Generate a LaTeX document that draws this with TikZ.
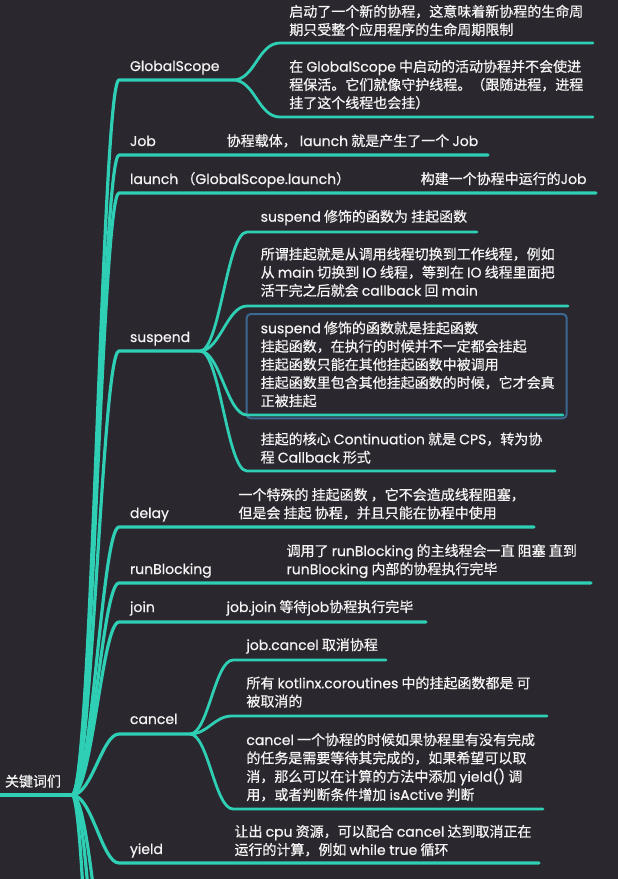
\documentclass[tikz,border=0pt]{standalone}
\usepackage{fontspec}
\setmainfont{Noto Sans CJK SC}[FakeBold=0.6]
\newfontfamily\ppfont{Poppins}[FakeBold=0.6]
\definecolor{bg}{HTML}{2B272E}
\definecolor{br}{HTML}{2ECFB4}
\definecolor{bx}{HTML}{3A6A92}
\definecolor{tx}{HTML}{F4F4F4}
\newcommand\EN[1]{{\ppfont #1}}
\newcommand\ML[1]{\begin{tabular}[t]{@{}l@{}}#1\end{tabular}}
\begin{document}
\begin{tikzpicture}[x=1pt,y=-1pt,
  txt/.style={anchor=base west, inner sep=0pt, outer sep=0pt, text=tx, font=\fontsize{14}{18.2}\selectfont},
  branch/.style={draw=br, line width=3.2pt, line cap=round, line join=round},
  rootline/.style={draw=br, line width=4pt, line cap=round},
  sub/.style={draw=br, line width=2.8pt, line cap=round, line join=round},
  boxline/.style={draw=bx, line width=2pt, rounded corners=4pt}]
\fill[bg] (0,0) rectangle (618,879);
\useasboundingbox (0,0) rectangle (618,879);
\clip (0,0) rectangle (618,879);

% ---------- coordinates ----------
\coordinate (fan) at (72,795);
\coordinate (rootL) at (0,795);
\coordinate (gsS) at (119,80);  \coordinate (gsF) at (233,80);
\coordinate (jobS) at (119,155); \coordinate (jobE) at (488,155);
\coordinate (laS) at (119,193); \coordinate (laE) at (596,193);
\coordinate (suS) at (119,351); \coordinate (suF) at (200,351);
\coordinate (deS) at (119,527); \coordinate (deE) at (534,527);
\coordinate (rbS) at (119,583); \coordinate (rbE) at (591,583);
\coordinate (joS) at (119,622); \coordinate (joE) at (426,622);
\coordinate (caS) at (119,734); \coordinate (caF) at (190,734);
\coordinate (yiS) at (119,863); \coordinate (yiE) at (539,863);
\coordinate (x1) at (119,1035);
\coordinate (x2) at (119,1215);
\coordinate (x3) at (119,1700);

\coordinate (gs1S) at (280,43);  \coordinate (gs1E) at (593,43);
\coordinate (gs2S) at (280,117); \coordinate (gs2E) at (593,117);
\coordinate (su1S) at (247,232); \coordinate (su1E) at (477,232);
\coordinate (su2S) at (247,306); \coordinate (su2E) at (568,306);
\coordinate (su3S) at (247,415); \coordinate (su3E) at (563,415);
\coordinate (su4S) at (247,471); \coordinate (su4E) at (555,471);
\coordinate (ca1S) at (233,660); \coordinate (ca1E) at (386,660);
\coordinate (ca2S) at (232,716); \coordinate (ca2E) at (547,716);
\coordinate (ca3S) at (233,809); \coordinate (ca3E) at (543,809);

% ---------- highlighted box ----------
\draw[boxline] (246.7,314) rectangle (566.7,418.3);

% ---------- main branches ----------
\draw[rootline] (rootL) -- (fan);
\foreach \s/\e in {gsS/gsF, jobS/jobE, laS/laE, suS/suF, deS/deE, rbS/rbE, joS/joE, caS/caF, yiS/yiE}
  \draw[branch] (fan) .. controls +(20,0) and +(-17,0) .. (\s) -- (\e);
\foreach \s in {x1,x2,x3}
  \draw[branch] (fan) .. controls +(20,0) and +(-17,0) .. (\s);

% ---------- sub branches ----------
\foreach \s/\e in {gs1S/gs1E, gs2S/gs2E}
  \draw[sub] (gsF) .. controls +(22,0) and +(-22,0) .. (\s) -- (\e);
\foreach \s/\e in {su1S/su1E, su2S/su2E, su3S/su3E, su4S/su4E}
  \draw[sub] (suF) .. controls +(20,0) and +(-20,0) .. (\s) -- (\e);
\foreach \s/\e in {ca1S/ca1E, ca2S/ca2E, ca3S/ca3E}
  \draw[sub] (caF) .. controls +(18,0) and +(-18,0) .. (\s) -- (\e);

% ---------- texts ----------
\node[txt] (root) at (5,786.5) {关键词们};

\node[txt] (gs) at (130,71) {\EN{GlobalScope}};
\node[txt] (job) at (130,146) {\EN{Job}};
\node[txt] (launch) at (130,184) {\EN{launch} （\EN{GlobalScope.launch}）};
\node[txt] (suspend) at (130,342) {\EN{suspend}};
\node[txt] (delay) at (130,518) {\EN{delay}};
\node[txt] (runb) at (130,574) {\EN{runBlocking}};
\node[txt] (join) at (130,612) {\EN{join}};
\node[txt] (cancel) at (130,724) {\EN{cancel}};
\node[txt] (yield) at (130,854) {\EN{yield}};

\node[txt] (gs1) at (289.3,16.7) {\ML{启动了一个新的协程，这意味着新协程的生命周\\期只受整个应用程序的生命周期限制}};
\node[txt] (gs2) at (289.3,71.7) {\ML{在 \EN{GlobalScope} 中启动的活动协程并不会使进\\程保活。它们就像守护线程。（跟随进程，进程\\挂了这个线程也会挂）}};

\node[txt] (jobd) at (226.7,146) {协程载体， \EN{launch} 就是产生了一个 \EN{Job}};
\node[txt] (launchd) at (420.7,184) {构建一个协程中运行的\EN{Job}};

\node[txt] (su1) at (260.7,221.7) {\EN{suspend} 修饰的函数为 挂起函数};
\node[txt] (su2) at (260.7,259.3) {\ML{所谓挂起就是从调用线程切换到工作线程，例如\\从 \EN{main} 切换到 \EN{IO} 线程，等到在 \EN{IO} 线程里面把\\活干完之后就会 \EN{callback} 回 \EN{main}}};
\node[txt] (su3) at (260.7,333.3) {\ML{\EN{suspend} 修饰的函数就是挂起函数\\挂起函数，在执行的时候并不一定都会挂起\\挂起函数只能在其他挂起函数中被调用\\挂起函数里包含其他挂起函数的时候，它才会真\\正被挂起}};
\node[txt] (su4) at (260.7,444.3) {\ML{挂起的核心 \EN{Continuation} 就是 \EN{CPS}，转为协\\程 \EN{Callback} 形式}};

\node[txt] (delayd) at (238.5,500) {\ML{一个特殊的 挂起函数 ，它不会造成线程阻塞，\\但是会 挂起 协程，并且只能在协程中使用}};
\node[txt] (runbd) at (286.6,556) {\ML{调用了 \EN{runBlocking} 的主线程会一直 阻塞 直到\\\EN{runBlocking} 内部的协程执行完毕}};
\node[txt] (joind) at (226.6,612) {\EN{job.join} 等待\EN{job}协程执行完毕};

\node[txt] (ca1) at (246.4,650) {\EN{job.cancel} 取消协程};
\node[txt] (ca2) at (246.4,688.3) {\ML{所有 \EN{kotlinx.coroutines} 中的挂起函数都是 可\\被取消的}};
\node[txt] (ca3) at (246.4,745) {\ML{\EN{cancel} 一个协程的时候如果协程里有没有完成\\的任务是需要等待其完成的，如果希望可以取\\消，那么可以在计算的方法中添加 \EN{yield()} 调\\用，或者判断条件增加 \EN{isActive} 判断}};

\node[txt] (yieldd) at (234.5,836.7) {\ML{让出 \EN{cpu} 资源，可以配合 \EN{cancel} 达到取消正在\\运行的计算，例如 \EN{while true} 循环}};
\end{tikzpicture}
\end{document}
